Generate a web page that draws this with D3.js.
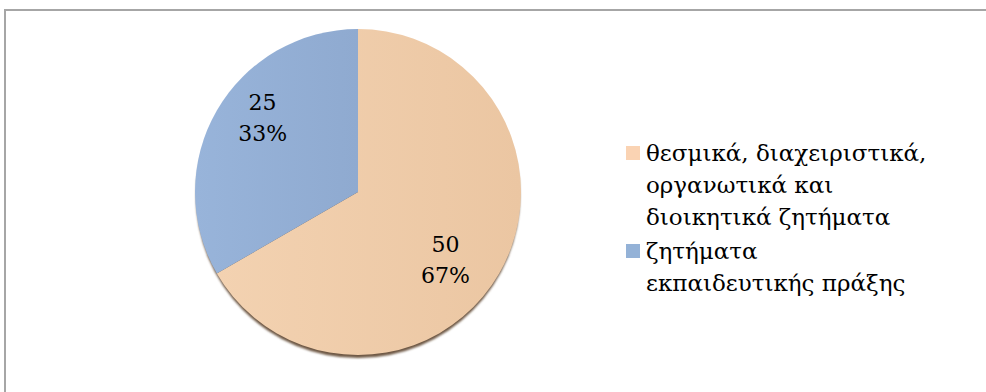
<!DOCTYPE html>
<html>
<head>
<meta charset="utf-8">
<script src="https://cdn.jsdelivr.net/npm/d3@7"></script>
<style>
  body { margin:0; background:#fff; }
  svg { display:block; }
</style>
</head>
<body>
<svg id="chart" width="986" height="392"></svg>
<script>
// data
var categories = ["θεσμικά, διαχειριστικά, οργανωτικά και διοικητικά ζητήματα",
                  "ζητήματα εκπαιδευτικής πράξης"];
var values = [50, 25];
var percentLabels = ["67%", "33%"];
// how the legend text wraps in the original
var legendLines = [["θεσμικά, διαχειριστικά,", "οργανωτικά και", "διοικητικά ζητήματα"],
                   ["ζητήματα", "εκπαιδευτικής πράξης"]];

var LEGEND_COLORS = ["#FAD3B3", "#94B2D7"];
var FONT = "'DejaVu Serif', serif";

var CX = 358, CY = 192, R = 163;

var svg = d3.select("#chart");

// frame (only top and left edges are visible in the crop)
svg.append("rect")
	.attr("x", 5).attr("y", 10)
	.attr("width", 1000).attr("height", 420)
	.style("fill", "none")
	.style("stroke", "#a6a6a6")
	.style("stroke-width", 2);

var defs = svg.append("defs");
defs.append("filter").attr("id", "blur")
	.append("feGaussianBlur").attr("stdDeviation", 1.2);

var grads = [["gPeach", "#F3D2B1", "#EBC6A2"], ["gBlue", "#98B4DA", "#8FAAD0"]];
grads.forEach(function(g){
	var lg = defs.append("linearGradient").attr("id", g[0])
		.attr("x1", "0%").attr("y1", "0%").attr("x2", "100%").attr("y2", "0%");
	lg.append("stop").attr("offset", "0%").attr("stop-color", g[1]);
	lg.append("stop").attr("offset", "100%").attr("stop-color", g[2]);
});

var gPie = svg.append("g").attr("transform", "translate(" + CX + "," + CY + ")");

// dark rim under the pie
gPie.append("circle")
	.attr("cx", 0).attr("cy", 4).attr("r", R - 1)
	.style("fill", "#6e5844")
	.attr("filter", "url(#blur)");

var pie = d3.pie().sort(null).value(function(d){ return d; });
var arc = d3.arc().innerRadius(0).outerRadius(R);

var arcs = pie(values);

gPie.selectAll("path.slice")
	.data(arcs)
	.enter()
	.append("path")
	.attr("class", "slice")
	.attr("d", arc)
	.style("fill", function(d, i){ return "url(#" + grads[i][0] + ")"; });

// value + percent labels, placed a bit clockwise of the mid angle like the original
var LBL_R = 116, LBL_ROT = 0.14;
function labelPos(d){
	var a = (d.startAngle + d.endAngle) / 2 + LBL_ROT;
	return [Math.sin(a) * LBL_R - 4, -Math.cos(a) * LBL_R - 3];
}

var lbl = gPie.selectAll("g.lbl")
	.data(arcs)
	.enter()
	.append("g")
	.attr("class", "lbl")
	.attr("transform", function(d){ var c = labelPos(d); return "translate(" + c[0] + "," + c[1] + ")"; });

lbl.append("text")
	.attr("text-anchor", "middle")
	.attr("y", -8)
	.style("font-family", FONT).style("font-size", "22px").style("fill", "#000")
	.text(function(d){ return d.value; });
lbl.append("text")
	.attr("text-anchor", "middle")
	.attr("y", 23)
	.style("font-family", FONT).style("font-size", "22px").style("fill", "#000")
	.text(function(d, i){ return percentLabels[i]; });

// legend
var LEG_X = 626, LEG_Y = 146, LINE_H = 32, ENTRY_GAP = 2;
var gLeg = svg.append("g").attr("id", "legend");
var rowY = LEG_Y;
legendLines.forEach(function(lines, i){
	gLeg.append("rect")
		.attr("x", LEG_X).attr("y", rowY)
		.attr("width", 14).attr("height", 14)
		.style("fill", LEGEND_COLORS[i]);
	var t = gLeg.append("text")
		.style("font-family", FONT).style("font-size", "23px").style("fill", "#000");
	lines.forEach(function(l, j){
		t.append("tspan").attr("x", LEG_X + 20).attr("y", rowY + 15 + j * LINE_H).text(l);
	});
	rowY += lines.length * LINE_H + ENTRY_GAP;
});
</script>
</body>
</html>
